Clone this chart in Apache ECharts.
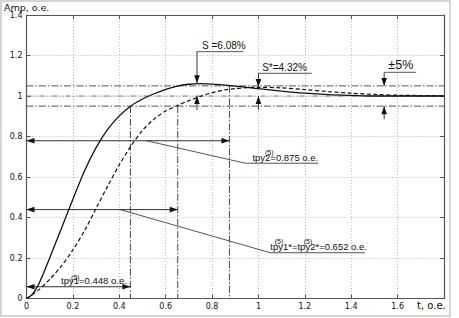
<!DOCTYPE html>
<html><head><meta charset="utf-8">
<script src="https://cdn.jsdelivr.net/npm/echarts@6/dist/echarts.min.js"></script>
<style>html,body{margin:0;padding:0;background:#fff}#c{width:459px;height:318px}</style>
</head><body><div id="c"></div>
<script>
// ---- data ----
const tSolid = [0,0.025,0.05,0.075,0.1,0.15,0.2,0.25,0.3,0.35,0.4,0.45,0.5,0.55,0.6,0.65,0.7,0.75,0.8,0.9,1.0,1.1,1.2,1.3,1.4,1.5,1.6,1.7,1.8];
const ySolid = [0,0.02,0.065,0.13,0.2,0.345,0.49,0.63,0.745,0.835,0.902,0.951,0.985,1.011,1.033,1.049,1.058,1.061,1.059,1.049,1.036,1.024,1.014,1.007,1.003,1.0,1.0,1.0,1.0];
const tDashed = [0,0.05,0.1,0.15,0.2,0.25,0.3,0.35,0.4,0.45,0.5,0.55,0.6,0.65,0.7,0.75,0.8,0.85,0.9,0.95,1.0,1.1,1.2,1.3,1.4,1.5,1.6,1.7,1.8];
const yDashed = [0,0.04,0.095,0.16,0.24,0.335,0.445,0.555,0.66,0.752,0.83,0.886,0.926,0.953,0.977,0.998,1.016,1.029,1.037,1.041,1.043,1.04,1.032,1.022,1.014,1.008,1.004,1.002,1.0];
const xTickLabels = ['0','0.2','0.4','0.6','0.8','1','1.2','1.4','1.6',''];
const yTickLabels = ['0','0.2','0.4','0.6','0.8','1','1.2','1.4'];
const bandLevels = [0.95, 1.05];
const targetLevel = [1.0];
const dropLines = [[0.448,0.95],[0.652,0.95],[0.875,1.05]]; // [t, top level]
// arrows: [x1,y1,x2,y2,headAtStart,headAtEnd]
const arrows = [
  [0,0.779,0.875,0.779,1,1],
  [0,0.439,0.652,0.439,1,1],
  [0,0.058,0.448,0.058,1,1],
  [0.735,1.219,0.735,1.063,0,1],
  [0.735,0.931,0.735,1.0,0,1],
  [1.0,1.112,1.0,1.045,0,1],
  [1.0,0.931,1.0,1.0,0,1],
  [1.542,1.117,1.542,1.05,0,1],
  [1.542,0.885,1.542,0.95,0,1]
];
// leader segments: [x1,y1,x2,y2]
const leaders = [
  [0.518,0.779,0.943,0.668],[0.943,0.668,1.258,0.668],
  [0.404,0.439,1.051,0.226],[1.051,0.226,1.46,0.226],
  [0.735,1.219,0.935,1.219],
  [1.0,1.112,1.23,1.112],
  [1.542,1.117,1.68,1.117]
];
// annotation texts
const noteX = [0.757, 1.016, 1.56, 0.974, 1.051, 0.149];
const noteY = [1.219, 1.112, 1.117, 0.668, 0.226, 0.058];
const noteText = ['S =6.08%','S*=4.32%','±5%','tpy2=0.875 o.e.','tpy1*=tpy2*=0.652 o.e.','tpy1=0.448 o.e.'];
const supText = '(5)';
// ---- style (sizes, superscript offsets in px relative to the note anchor) ----
const noteSize = [10,10,12.5,9.5,9.5,9.5];
const supOffsets = [[],[],[],[[12.5,-14]],[[4.5,-15],[33.5,-15]],[[10,-13]]];

const fontA = '"Liberation Sans", Arial, sans-serif';
const fontB = '"DejaVu Sans", sans-serif';

function segRender(style){
  return function(params, api){
    const p1 = api.coord([api.value(0), api.value(1)]);
    const p2 = api.coord([api.value(2), api.value(3)]);
    return {type:'line', shape:{x1:p1[0],y1:p1[1],x2:p2[0],y2:p2[1]}, style:Object.assign({fill:null}, style)};
  };
}
function arrowRender(params, api){
  const p1 = api.coord([api.value(0), api.value(1)]);
  const p2 = api.coord([api.value(2), api.value(3)]);
  const children = [{type:'line', shape:{x1:p1[0],y1:p1[1],x2:p2[0],y2:p2[1]}, style:{stroke:'#333', lineWidth:1}}];
  function head(tip, from){
    const dx = tip[0]-from[0], dy = tip[1]-from[1];
    const L = Math.hypot(dx,dy), ux = dx/L, uy = dy/L;
    const len = 8, w = 2.8;
    const bx = tip[0]-ux*len, by = tip[1]-uy*len;
    return {type:'polygon', shape:{points:[[tip[0],tip[1]],[bx-uy*w,by+ux*w],[bx+uy*w,by-ux*w]]}, style:{fill:'#111'}};
  }
  if (api.value(5)) children.push(head(p2,p1));
  if (api.value(4)) children.push(head(p1,p2));
  return {type:'group', children};
}
function noteRender(params, api){
  const i = params.dataIndex;
  const p = api.coord([api.value(0), api.value(1)]);
  const children = [{type:'text', x:p[0], y:p[1]-1,
    style:{text:noteText[i], fill:'#111', font:noteSize[i]+'px '+fontA, textAlign:'left', textVerticalAlign:'bottom'}}];
  supOffsets[i].forEach(function(o){
    children.push({type:'text', x:p[0]+o[0], y:p[1]+o[1],
      style:{text:supText, fill:'#111', font:'7px '+fontA, textAlign:'left', textVerticalAlign:'top'}});
  });
  return {type:'group', children};
}

const chart = echarts.init(document.getElementById('c'), null, {renderer:'svg', width:459, height:318});
const axisCol = '#555';
const gridLine = {show:true, lineStyle:{color:'#bbb', type:[1,2], width:1}};
chart.setOption({
  animation:false,
  backgroundColor:'#fff',
  grid:{left:26.5, right:15, top:15, bottom:19.5, outerBoundsMode:'none', containLabel:false},
  graphic:[
    {type:'rect', shape:{x:1, y:1, width:449, height:315}, style:{fill:null, stroke:'#c8c8c8', lineWidth:1.5}, silent:true},
    {type:'text', left:4, top:2, style:{text:'Amp, o.e.', font:'9.5px '+fontB, fill:'#111'}},
    {type:'text', left:417, top:300, style:{text:'t, o.e.', font:'10px '+fontB, fill:'#111'}}
  ],
  xAxis:[
    {type:'value', min:0, max:1.8, interval:0.2, position:'bottom',
     axisLine:{show:true, onZero:false, lineStyle:{color:axisCol, width:1.2}},
     axisTick:{show:true, inside:true, length:4, lineStyle:{color:axisCol}},
     axisLabel:{show:true, margin:4, color:'#111', fontSize:8, fontFamily:fontB,
       formatter:function(v,i){ return xTickLabels[i] !== undefined ? xTickLabels[i] : ''; }},
     splitLine:gridLine},
    {type:'value', min:0, max:1.8, interval:0.2, position:'top',
     axisLine:{show:true, onZero:false, lineStyle:{color:axisCol, width:1.2}},
     axisTick:{show:true, inside:true, length:4, lineStyle:{color:axisCol}},
     axisLabel:{show:false}, splitLine:{show:false}}
  ],
  yAxis:[
    {type:'value', min:0, max:1.4, interval:0.2, position:'left',
     axisLine:{show:true, onZero:false, lineStyle:{color:axisCol, width:1.2}},
     axisTick:{show:true, inside:true, length:4, lineStyle:{color:axisCol}},
     axisLabel:{show:true, margin:4, color:'#111', fontSize:8, fontFamily:fontB,
       formatter:function(v,i){ return yTickLabels[i] !== undefined ? yTickLabels[i] : ''; }},
     splitLine:gridLine},
    {type:'value', min:0, max:1.4, interval:0.2, position:'right',
     axisLine:{show:true, onZero:false, lineStyle:{color:axisCol, width:1.2}},
     axisTick:{show:true, inside:true, length:4, lineStyle:{color:axisCol}},
     axisLabel:{show:false}, splitLine:{show:false}}
  ],
  series:[
    {type:'custom', name:'band', renderItem:segRender({stroke:'#555', lineWidth:1, lineDash:[7,2,1.5,2]}),
     data:bandLevels.map(function(v){return [0,v,1.8,v];}), z:3, silent:true},
    {type:'custom', name:'target', renderItem:segRender({stroke:'#777', lineWidth:1, lineDash:[5,2,1,2,1,2]}),
     data:targetLevel.map(function(v){return [0,v,1.8,v];}), z:3, silent:true},
    {type:'custom', name:'drops', renderItem:segRender({stroke:'#444', lineWidth:1, lineDash:[7,2,1.5,2]}),
     data:dropLines.map(function(d){return [d[0],d[1],d[0],0];}), z:3, silent:true},
    {type:'custom', name:'leaders', renderItem:segRender({stroke:'#555', lineWidth:1}),
     data:leaders, z:4, silent:true},
    {type:'custom', name:'arrows', renderItem:arrowRender, data:arrows, z:5, silent:true},
    {type:'custom', name:'notes', renderItem:noteRender,
     data:noteX.map(function(x,i){return [x, noteY[i]];}), z:6, silent:true},
    {type:'line', name:'system', data:tSolid.map(function(t,i){return [t, ySolid[i]];}),
     showSymbol:false, smooth:0.3, lineStyle:{color:'#111', width:1.3}, z:7},
    {type:'line', name:'system*', data:tDashed.map(function(t,i){return [t, yDashed[i]];}),
     showSymbol:false, smooth:0.3, lineStyle:{color:'#111', width:1.2, type:[4,2.5]}, z:7}
  ]
});
</script></body></html>
